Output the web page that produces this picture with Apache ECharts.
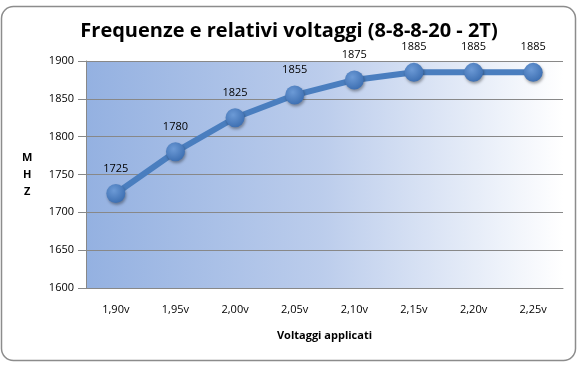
<!DOCTYPE html>
<html><head><meta charset="utf-8">
<script src="https://cdn.jsdelivr.net/npm/echarts@6/dist/echarts.min.js"></script>
<style>html,body{margin:0;padding:0;background:#fff}#c{width:578px;height:366px}</style>
</head><body><div id="c"></div>
<script>
const categories = ['1,90v','1,95v','2,00v','2,05v','2,10v','2,15v','2,20v','2,25v'];
const frequencies = [1725, 1780, 1825, 1855, 1875, 1885, 1885, 1885];
const yTicks = {min:1600, max:1900, interval:50};
const chart = echarts.init(document.getElementById('c'));
chart.setOption({
  animation:false,
  graphic:[{type:'rect',shape:{x:1.5,y:6.5,width:574,height:354,r:12},style:{fill:'#fff',stroke:'#8c8c8c',lineWidth:1.5},z:-10},
    {type:'rect',shape:{x:86,y:61,width:477,height:227},style:{fill:new echarts.graphic.LinearGradient(0,0,1,0,[{offset:0,color:'#94b1e1'},{offset:0.5,color:'#bccdec'},{offset:1,color:'#ffffff'}])},z:-5},
    {type:'group',left:22,top:152,children:[
      {type:'text',style:{text:'M',x:0,y:0,font:'bold 11px "Open Sans"',fill:'#000'}},
      {type:'text',style:{text:'H',x:1,y:17,font:'bold 11px "Open Sans"',fill:'#000'}},
      {type:'text',style:{text:'Z',x:2,y:34,font:'bold 11px "Open Sans"',fill:'#000'}}]}
  ],
  title:{text:'Frequenze e relativi voltaggi (8-8-8-20 - 2T)',left:'center',top:16,textStyle:{fontFamily:'Open Sans',fontSize:20,fontWeight:'bold',color:'#000'}},
  grid:{left:86,right:15,top:61,bottom:78},
  xAxis:{type:'category',data:categories,boundaryGap:true,
    axisLine:{lineStyle:{color:'#888',width:1}},axisTick:{show:false},
    axisLabel:{color:'#000',fontFamily:'Open Sans',fontSize:11,margin:16},
    name:'Voltaggi applicati',nameLocation:'middle',nameGap:42,
    nameTextStyle:{color:'#000',fontFamily:'Open Sans',fontSize:11,fontWeight:'bold'}},
  yAxis:{type:'value',min:yTicks.min,max:yTicks.max,interval:yTicks.interval,
    axisLine:{show:true,lineStyle:{color:'#888'}},axisTick:{show:true,length:8,lineStyle:{color:'#888'}},
    splitLine:{lineStyle:{color:'#888',width:1}},
    axisLabel:{color:'#000',fontFamily:'Open Sans',fontSize:11,margin:12,formatter:v=>String(v)}},
  series:[{type:'line',data:frequencies,symbol:'circle',symbolSize:19,
    lineStyle:{color:'#4a7ebf',width:6},
    itemStyle:{color:new echarts.graphic.RadialGradient(0.4,0.35,0.7,[{offset:0,color:'#6c9ad6'},{offset:1,color:'#3b6db0'}]),shadowColor:'rgba(0,0,0,0.35)',shadowBlur:3,shadowOffsetX:1,shadowOffsetY:2},
    label:{show:true,position:'top',distance:10,color:'#000',fontFamily:'Open Sans',fontSize:11}}]
});
</script></body></html>
